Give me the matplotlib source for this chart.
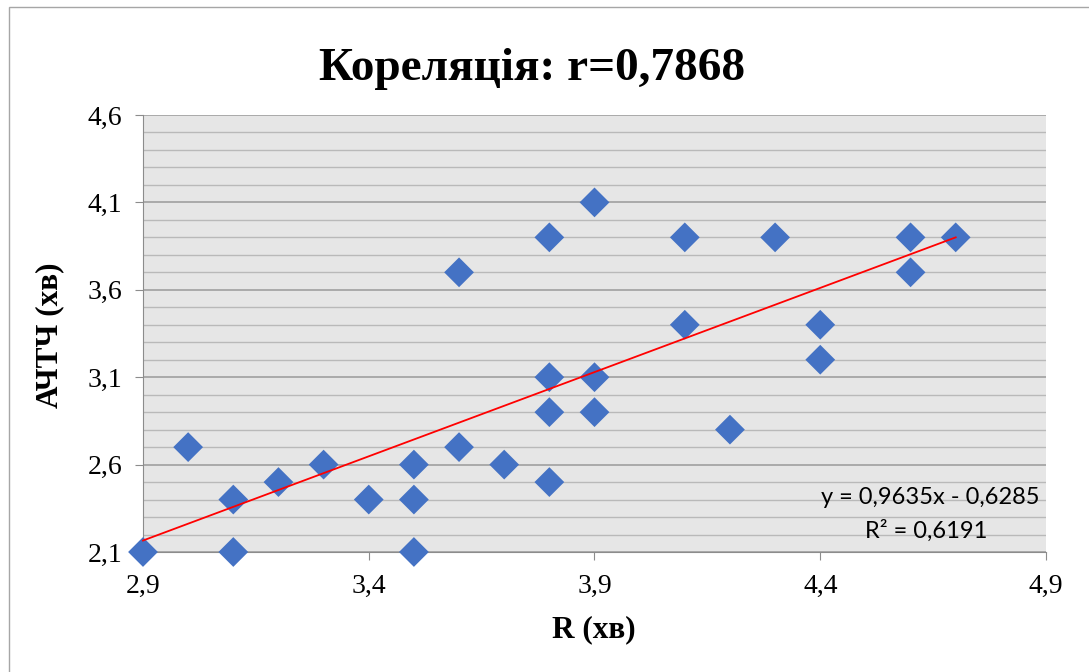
import numpy as np
import matplotlib.pyplot as plt
from matplotlib.patches import Rectangle
from matplotlib.ticker import FixedLocator, FuncFormatter

# R (хв) and АЧТЧ (хв) values
r_values = [2.9, 3.0, 3.1, 3.1, 3.2, 3.3, 3.4, 3.5, 3.5, 3.5,
            3.6, 3.6, 3.7, 3.8, 3.8, 3.8, 3.8, 3.9, 3.9, 3.9,
            4.1, 4.1, 4.2, 4.3, 4.4, 4.4, 4.6, 4.6, 4.7]
achtch_values = [2.1, 2.7, 2.4, 2.1, 2.5, 2.6, 2.4, 2.6, 2.4, 2.1,
                 3.7, 2.7, 2.6, 3.9, 3.1, 2.9, 2.5, 4.1, 3.1, 2.9,
                 3.9, 3.4, 2.8, 3.9, 3.4, 3.2, 3.9, 3.7, 3.9]

x_ticks = [2.9, 3.4, 3.9, 4.4, 4.9]
y_ticks = [2.1, 2.6, 3.1, 3.6, 4.1, 4.6]

# linear trend coefficients
slope = 0.9635
intercept = -0.6285
r_squared = 0.6191
r_coef = "0,7868"

serif = ["Liberation Serif", "DejaVu Serif"]

fig = plt.figure(figsize=(10.89, 6.72), dpi=100)
W, H = 1089, 672
ax = fig.add_axes([143 / W, 1 - 552 / H, (1046 - 143) / W, (552 - 115) / H])

# chart border
fig.patches.append(Rectangle((9 / W, -0.1), 1.2, 1 - 7 / H + 0.1,
                             transform=fig.transFigure, fill=False,
                             edgecolor="#a6a6a6", linewidth=1.0))

ax.set_facecolor("#e6e6e6")
ax.set_xlim(x_ticks[0], x_ticks[-1])
ax.set_ylim(y_ticks[0], y_ticks[-1])

# gridlines: major every 0.5, minor every 0.1 on y
ax.xaxis.set_major_locator(FixedLocator(x_ticks))
ax.yaxis.set_major_locator(FixedLocator(y_ticks))
ax.yaxis.set_minor_locator(FixedLocator(np.round(np.arange(2.1, 4.65, 0.1), 1)))
ax.grid(axis="y", which="major", color="#a0a0a0", linewidth=1.2, zorder=0)
ax.grid(axis="y", which="minor", color="#b9b9b9", linewidth=1.0, zorder=0)
ax.set_axisbelow(True)

for side in ["top", "right"]:
    ax.spines[side].set_visible(False)
ax.spines["left"].set_color("#8c8c8c")
ax.spines["bottom"].set_color("#8c8c8c")

comma = FuncFormatter(lambda v, p: f"{v:.1f}".replace(".", ","))
ax.xaxis.set_major_formatter(comma)
ax.yaxis.set_major_formatter(comma)
ax.tick_params(which="major", length=6, color="#8c8c8c", labelsize=20)
ax.tick_params(axis="x", pad=10)
ax.tick_params(axis="y", pad=9)
ax.tick_params(which="minor", length=0)
for lbl in ax.get_xticklabels() + ax.get_yticklabels():
    lbl.set_family(serif)

ax.scatter(r_values, achtch_values, marker="D", s=230, color="#4472c4",
           edgecolors="none", zorder=3, clip_on=False)

xs = np.array([min(r_values), max(r_values)])
ax.plot(xs, slope * xs + intercept, color="#ff0000", linewidth=1.3,
        zorder=4, clip_on=False)

eq = f"y = {slope:.4f}x - {abs(intercept):.4f}".replace(".", ",")
ax.text(0.993, 0.125, eq, transform=ax.transAxes, ha="right", va="center",
        fontsize=17, family=["Lato", "DejaVu Sans"], zorder=5)
ax.text(0.935, 0.048, f"R² = {r_squared:.4f}".replace(".", ","),
        transform=ax.transAxes, ha="right", va="center",
        fontsize=17, family=["Lato", "DejaVu Sans"], zorder=5)

fig.text(532 / W, 1 - 69 / H, f"Кореляція: r={r_coef}", ha="center",
         va="center", fontsize=34, fontweight="bold", family=serif)
fig.text(594 / W, 1 - 630 / H, "R (хв)", ha="center", va="center",
         fontsize=22.5, fontweight="bold", family=serif)
fig.text(50 / W, 1 - 335 / H, "АЧТЧ (хв)", ha="center", va="center",
         rotation=90, fontsize=22.5, fontweight="bold", family=serif)

fig.savefig("out.png", dpi=100)
